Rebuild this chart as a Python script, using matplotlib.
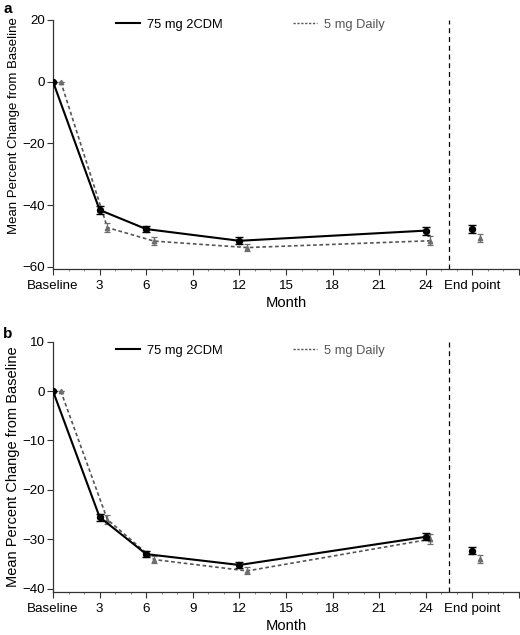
import matplotlib
matplotlib.use("Agg")
import matplotlib.pyplot as plt
from matplotlib.lines import Line2D
from matplotlib.ticker import MultipleLocator

plt.rcParams['font.family'] = ['Liberation Sans', 'DejaVu Sans']

# ---- data ----
months = [0, 3, 6, 12, 24]
endpoint_x = 27
offset_5mg = [0.5, 0.5, 0.5, 0.5, 0.25]
endpoint_offset_5mg = 0.5

xtick_pos = [0, 3, 6, 9, 12, 15, 18, 21, 24, 27, 30]
xtick_labels = ['Baseline', '3', '6', '9', '12', '15', '18', '21', '24', 'End point', '']

series_names = ['75 mg 2CDM', '5 mg Daily']

# panel a
a_75 = [0, -41.6, -47.8, -51.6, -48.3]
a_75_err = [0, 1.2, 1.1, 1.1, 1.3]
a_75_ep = -47.8
a_75_ep_err = 1.2
a_5 = [0, -47.3, -51.7, -53.8, -51.6]
a_5_err = [0, 1.6, 1.2, 1.2, 1.4]
a_5_ep = -50.6
a_5_ep_err = 1.3
a_yticks = [-60, -40, -20, 0, 20]

# panel b
b_75 = [0, -25.5, -33.0, -35.2, -29.5]
b_75_err = [0, 0.7, 0.55, 0.6, 0.7]
b_75_ep = -32.3
b_75_ep_err = 0.7
b_5 = [0, -26.0, -34.1, -36.4, -30.0]
b_5_err = [0, 0.85, 0.65, 0.7, 1.0]
b_5_ep = -34.0
b_5_ep_err = 0.9
b_yticks = [-40, -30, -20, -10, 0, 10]

BLACK = '#000000'
GREY_LINE = '#555555'
GREY_MARK = '#6e6e6e'
GREY_TEXT = '#555555'
SPINE = '#333333'

fig = plt.figure(figsize=(5.2, 6.35), dpi=100)
W, H = 520, 635
left = 53 / W
width = (519 - 53) / W
ax_a = fig.add_axes([left, 1 - 269 / H, width, (269 - 20) / H])
ax_b = fig.add_axes([left, 1 - 592 / H, width, (592 - 341.7) / H])


def draw(ax, v75, e75, ep75, eep75, v5, e5, ep5, eep5, yticks, ylim,
         legend_y, ylabel_size, ylabel_y):
    x5 = [m + o for m, o in zip(months, offset_5mg)]
    # 5 mg daily (drawn first, beneath)
    ax.plot(x5, v5, color=GREY_LINE, lw=1.2, ls=(0, (2.2, 1.6)), zorder=2)
    ax.errorbar(x5, v5, yerr=e5, fmt='^', color=GREY_MARK, ms=3.2,
                ecolor=GREY_MARK, elinewidth=0.9, capsize=2.3, capthick=0.9,
                zorder=3)
    ax.errorbar([endpoint_x + endpoint_offset_5mg], [ep5], yerr=[eep5], fmt='^',
                color=GREY_MARK, ms=3.2, ecolor=GREY_MARK, elinewidth=0.9,
                capsize=2.3, capthick=0.9, zorder=3)
    # 75 mg 2CDM
    ax.plot(months, v75, color=BLACK, lw=1.5, zorder=4)
    ax.errorbar(months, v75, yerr=e75, fmt='o', color=BLACK, ms=4.3,
                ecolor=BLACK, elinewidth=1.0, capsize=2.7, capthick=1.0,
                zorder=5)
    ax.errorbar([endpoint_x], [ep75], yerr=[eep75], fmt='o', color=BLACK,
                ms=4.3, ecolor=BLACK, elinewidth=1.0, capsize=2.7,
                capthick=1.0, zorder=5)
    # separator
    ax.axvline(25.5, color=BLACK, lw=0.9, ls=(0, (4, 3)), zorder=1)

    ax.set_xlim(0, 30)
    ax.set_ylim(*ylim)
    ax.set_xticks(xtick_pos)
    ax.set_xticklabels(xtick_labels)
    ax.xaxis.set_minor_locator(MultipleLocator(1))
    ax.set_yticks(yticks)
    ax.set_yticklabels([str(t).replace('-', '\u2212') for t in yticks])
    for s in ['top', 'right']:
        ax.spines[s].set_visible(False)
    for s in ['left', 'bottom']:
        ax.spines[s].set_color(SPINE)
        ax.spines[s].set_linewidth(0.9)
    ax.tick_params(axis='both', which='major', direction='out', length=4,
                   width=0.8, color=SPINE, labelsize=9.6, pad=2)
    ax.tick_params(axis='x', which='major', pad=4)
    ax.tick_params(axis='x', which='minor', direction='out', length=1.5,
                   width=0.6, color='#777777')
    ax.set_xlabel('Month', fontsize=10.6, labelpad=3)
    ax.set_ylabel('Mean Percent Change from Baseline', fontsize=ylabel_size)
    ax.yaxis.set_label_coords(-0.071, ylabel_y)

    handles = [Line2D([], [], color=BLACK, lw=1.5),
               Line2D([], [], color=GREY_LINE, lw=1.0, ls=(0, (1.6, 1.2)))]
    leg = ax.legend(handles, series_names, ncol=2, frameon=False,
                    loc='center left', bbox_to_anchor=(0.1345, legend_y),
                    borderaxespad=0, borderpad=0, fontsize=9.3,
                    handlelength=1.85, handletextpad=0.6, columnspacing=5.4)
    leg.get_texts()[1].set_color(GREY_TEXT)


draw(ax_a, a_75, a_75_err, a_75_ep, a_75_ep_err, a_5, a_5_err, a_5_ep,
     a_5_ep_err, a_yticks, (-60.75, 20), 0.98, 9.5, 0.575)
draw(ax_b, b_75, b_75_err, b_75_ep, b_75_ep_err, b_5, b_5_err, b_5_ep,
     b_5_ep_err, b_yticks, (-40.67, 10), 0.964, 10.5, 0.5)

fig.text(3 / W, 1 - 13 / H, 'a', fontsize=11, fontweight='bold')
fig.text(3 / W, 1 - 338 / H, 'b', fontsize=11, fontweight='bold')

fig.savefig('out.png', dpi=100)
